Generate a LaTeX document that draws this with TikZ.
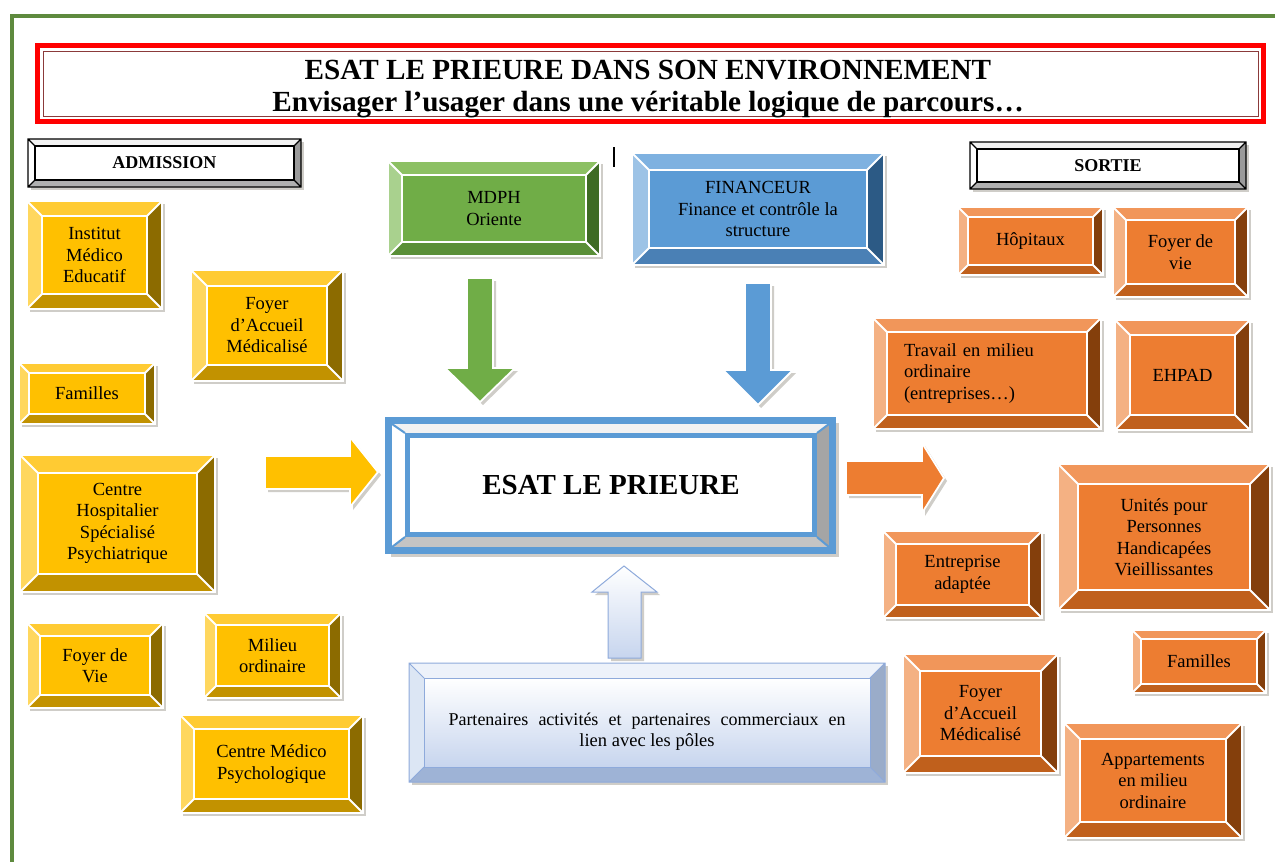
\documentclass[tikz,border=0pt]{standalone}
\usepackage{fontspec}
\setmainfont{Liberation Serif}
\newcommand\bodyfont{\fontsize{18.5}{21.5}\selectfont}
% palettes
\definecolor{yface}{HTML}{FFC000}\definecolor{ytop}{HTML}{FFCB33}\definecolor{yleft}{HTML}{FFD75E}\definecolor{yright}{HTML}{8C6B00}\definecolor{ybot}{HTML}{C29200}
\definecolor{oface}{HTML}{ED7D31}\definecolor{otop}{HTML}{F1965A}\definecolor{oleft}{HTML}{F4B183}\definecolor{oright}{HTML}{843F0C}\definecolor{obot}{HTML}{C0601C}
\definecolor{gface}{HTML}{70AD47}\definecolor{gtop}{HTML}{8CC063}\definecolor{gleft}{HTML}{A9D18E}\definecolor{gright}{HTML}{3E6B24}\definecolor{gbot}{HTML}{5A8F37}
\definecolor{bface}{HTML}{5B9BD5}\definecolor{btop}{HTML}{7EB1E0}\definecolor{bleft}{HTML}{9DC3E6}\definecolor{bright}{HTML}{2C5A85}\definecolor{bbot}{HTML}{4A80B5}
\definecolor{wface}{HTML}{FFFFFF}\definecolor{wtop}{HTML}{F2F2F2}\definecolor{wleft}{HTML}{FFFFFF}\definecolor{wright}{HTML}{9A9A9A}\definecolor{wbot}{HTML}{B0B0B0}
\definecolor{pface}{HTML}{C7D5EE}\definecolor{ptop}{HTML}{EDF2FA}\definecolor{pleft}{HTML}{DCE6F4}\definecolor{pright}{HTML}{9AACC9}\definecolor{pbot}{HTML}{9EB3D6}
\definecolor{pline}{HTML}{8EAADB}
\definecolor{shadowc}{HTML}{CFCDC8}
\definecolor{framegreen}{HTML}{5E8A3E}
\definecolor{esatblue}{HTML}{5B9BD5}
\definecolor{esatright}{HTML}{A5A5A5}
\definecolor{esatbot}{HTML}{C4C4C4}
\definecolor{titlered}{HTML}{FF0000}
\definecolor{titledark}{HTML}{8B3A3A}
\tikzset{
  yln/.style={draw=white, line width=1.8},
  oln/.style={draw=white, line width=1.8},
  gln/.style={draw=white, line width=1.8},
  bln/.style={draw=white, line width=1.8},
  wln/.style={draw=black, line width=1.1},
  pln/.style={draw=pline, line width=1},
  bevface/.style={inner sep=0pt, align=center, text=black, font=\bodyfont},
  headfont/.style={font=\fontsize{18}{21}\selectfont\bfseries},
  blockarrow/.style={line width=1.8, draw=white},
}
% #1 name, #2 x1, #3 y1, #4 x2, #5 y2, #6 bevel depth, #7 palette, #8 text, #9 extra node options
\newcommand\bbox[9]{%
  \fill[shadowc] ({#2+3},{#3+3}) rectangle ({#4+3},{#5+3});
  \fill[#7top] ({#2},{#3}) -- ({#4},{#3}) -- ({#4-#6},{#3+#6}) -- ({#2+#6},{#3+#6}) -- cycle;
  \fill[#7left] ({#2},{#3}) -- ({#2+#6},{#3+#6}) -- ({#2+#6},{#5-#6}) -- ({#2},{#5}) -- cycle;
  \fill[#7right] ({#4},{#3}) -- ({#4},{#5}) -- ({#4-#6},{#5-#6}) -- ({#4-#6},{#3+#6}) -- cycle;
  \fill[#7bot] ({#2},{#5}) -- ({#4},{#5}) -- ({#4-#6},{#5-#6}) -- ({#2+#6},{#5-#6}) -- cycle;
  \draw[#7ln] ({#2},{#3}) rectangle ({#4},{#5})
     ({#2},{#3}) -- ({#2+#6},{#3+#6}) ({#4},{#3}) -- ({#4-#6},{#3+#6})
     ({#4},{#5}) -- ({#4-#6},{#5-#6}) ({#2},{#5}) -- ({#2+#6},{#5-#6});
  \node[bevface, fill=#7face, #7ln, minimum width={(#4-#2-2*#6)*1pt}, minimum height={(#5-#3-2*#6)*1pt}, #9]
     (#1) at ({(#2+#4)/2},{(#3+#5)/2}) {#8};
}
\begin{document}
\begin{tikzpicture}[x=1pt, y=-1pt]
\useasboundingbox (0,0) rectangle (1275,862);
\fill[white] (0,0) rectangle (1275,862);
% frame
\draw[framegreen, line width=4] (12,862) -- (12,16) -- (1275,16);
% title
\draw[titlered, line width=5] (37.5,45.5) rectangle (1263.5,121.5);
\draw[titledark, line width=0.8] (43,51) rectangle (1258,116);
\node[align=center, font=\fontsize{29.2}{32}\selectfont\bfseries, inner sep=0pt] (title) at (648,89.5)
  {ESAT LE PRIEURE DANS SON ENVIRONNEMENT\\Envisager l’usager dans une véritable logique de parcours…};
% headers
\bbox{admission}{28}{139}{301}{187}{7}{w}{}{}
\node[headfont] (admissiontxt) at (admission) {ADMISSION};
\bbox{sortie}{970}{142}{1246}{189}{7}{w}{}{}
\node[headfont] (sortietxt) at (sortie) {SORTIE};
\draw[line width=1.2] (614,147) -- (614,167);
% admission boxes
\bbox{ime}{27}{201}{162}{309}{15}{y}{Institut\\Médico\\Educatif}{}
\bbox{fam}{191}{270}{343}{381}{16}{y}{Foyer\\d’Accueil\\Médicalisé}{}
\bbox{famillesA}{19}{363}{155}{424}{10}{y}{Familles}{}
\bbox{chsp}{20}{455}{215}{592}{18}{y}{Centre\\Hospitalier\\Spécialisé\\Psychiatrique}{}
\bbox{fdvA}{27}{623}{163}{708}{13}{y}{Foyer de\\Vie}{}
\bbox{milieu}{204}{613}{341}{698}{12}{y}{Milieu\\ordinaire}{}
\bbox{cmp}{180}{715}{363}{813}{14}{y}{Centre Médico\\Psychologique}{}
% top
\bbox{mdph}{388}{161}{600}{256}{14}{g}{MDPH\\Oriente}{}
\bbox{fin}{632}{153}{884}{265}{17}{b}{FINANCEUR\\Finance et contrôle la\\structure}{}
% sortie boxes
\bbox{hop}{958}{207}{1103}{275}{10}{o}{Hôpitaux}{}
\bbox{fdvS}{1113}{207}{1248}{297}{13}{o}{Foyer de\\vie}{}
\bbox{travail}{873}{318}{1101}{429}{14}{o}{Travail en milieu\\ordinaire\\(entreprises…)}{align=left, text width=166pt}
\bbox{ehpad}{1115}{320}{1250}{430}{15}{o}{EHPAD}{}
\bbox{entr}{883}{531}{1042}{618}{13}{o}{Entreprise\\adaptée}{}
\bbox{uphv}{1058}{464}{1270}{610}{20}{o}{Unités pour\\Personnes\\Handicapées\\Vieillissantes}{}
\bbox{famillesS}{1132}{630}{1266}{693}{9}{o}{Familles}{}
\bbox{famS}{903}{654}{1058}{773}{17}{o}{Foyer\\d’Accueil\\Médicalisé}{}
\bbox{appart}{1064}{723}{1242}{838}{16}{o}{Appartements\\en milieu\\ordinaire}{}
% partenaires
\bbox{part}{409}{663}{885}{782}{15}{p}{\fontsize{18}{22.5}\selectfont\rule{0pt}{31pt}\makebox[397pt][s]{Partenaires activités et partenaires commerciaux en}\\lien avec les pôles}{top color=white, bottom color=pface}
% ESAT central box
\fill[shadowc] (391,423) rectangle (839,557);
\fill[wtop] (392,424) -- (829,424) -- (817,433) -- (405,433) -- cycle;
\fill[white] (392,424) -- (405,433) -- (405,537) -- (392,547) -- cycle;
\fill[esatright] (829,424) -- (829,547) -- (817,537) -- (817,433) -- cycle;
\fill[esatbot] (392,547) -- (829,547) -- (817,537) -- (405,537) -- cycle;
\draw[esatblue, line width=2] (392,424) -- (405,433) (829,424) -- (817,433) (829,547) -- (817,537) (392,547) -- (405,537);
\draw[esatblue, line width=7] (388.5,420.5) rectangle (832.5,550.5);
\node[fill=white, draw=esatblue, line width=5, minimum width=407pt, minimum height=99pt, inner sep=0pt,
      font=\fontsize{29}{33}\selectfont\bfseries] (esat) at (611,485) {ESAT LE PRIEURE};
% block arrows
\fill[shadowc] (470,281) -- (496,281) -- (496,371) -- (518,371) -- (483,405) -- (448,371) -- (470,371) -- cycle;
\filldraw[blockarrow, fill=gface] (467,278) -- (493,278) -- (493,368) -- (515,368) -- (480,402) -- (445,368) -- (467,368) -- cycle;
\fill[shadowc] (748,286) -- (774,286) -- (774,373) -- (796,373) -- (761,408) -- (726,373) -- (748,373) -- cycle;
\filldraw[blockarrow, fill=bface] (745,283) -- (771,283) -- (771,370) -- (793,370) -- (758,405) -- (723,370) -- (745,370) -- cycle;
\fill[shadowc] (268,459) -- (353,459) -- (353,440) -- (381,475) -- (353,510) -- (353,492) -- (268,492) -- cycle;
\filldraw[blockarrow, fill=yface] (265,456) -- (350,456) -- (350,437) -- (378,472) -- (350,507) -- (350,489) -- (265,489) -- cycle;
\fill[shadowc] (849,464) -- (925,464) -- (925,446) -- (947,481) -- (925,516) -- (925,498) -- (849,498) -- cycle;
\filldraw[blockarrow, fill=oface] (846,461) -- (922,461) -- (922,443) -- (944,478) -- (922,513) -- (922,495) -- (846,495) -- cycle;
\fill[shadowc] (611,661) -- (644,661) -- (644,595) -- (660,595) -- (627,569) -- (595,595) -- (611,595) -- cycle;
\path[draw=pline, line width=1, top color=white, bottom color=pface] (608,658) -- (641,658) -- (641,592) -- (657,592) -- (624,566) -- (592,592) -- (608,592) -- cycle;
\end{tikzpicture}
\end{document}
